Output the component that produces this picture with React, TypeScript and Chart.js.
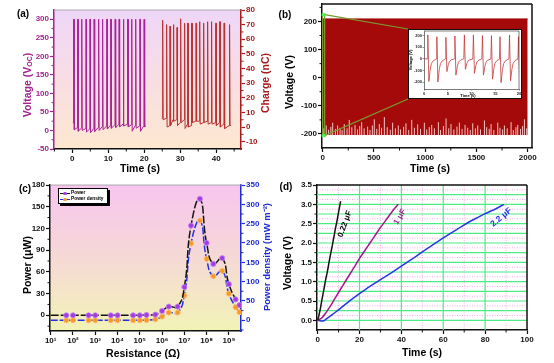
import React, { useEffect, useRef } from 'react';
import { Chart, registerables } from 'chart.js';
Chart.register(...registerables);

const FONT = '"Liberation Sans", Arial, Helvetica, sans-serif';
const PURPLE = '#a3248f';
const DARKRED = '#a51c1c';
const BLUE = '#1e2bd8';
const BANDRED = '#a50a0a';

// ---------------- Panel (a) ----------------
const aTimeTicks = [0, 10, 20, 30, 40];
const aTimeMinor = [-5, 5, 15, 25, 35, 45];
const aVoltTicks = [-50, 0, 50, 100, 150, 200, 250, 300];
const aVoltMinor = [-25, 25, 75, 125, 175, 225, 275];
const aChargeTicks = [-10, 0, 10, 20, 30, 40, 50, 60, 70, 80];
const aChargeMinor = [-5, 5, 15, 25, 35, 45, 55, 65, 75];

const voltPulseTimes = [0.4, 1.5, 2.6, 3.8, 4.9, 6.1, 7.3, 8.4, 9.6, 10.7, 11.9, 13.0, 14.2, 15.4, 16.5, 17.6, 18.8, 20.0];
const voltPeaks = [300, 300, 300, 300, 300, 300, 300, 300, 300, 300, 300, 300, 300, 300, 300, 300, 300, 300];
const voltBase = [20, 8, 6, 5, 4, 6, 8, 10, 12, 14, 15, 16, 17, 17, 15, 13, 12, 13];
const voltDip = [2, -2, 0, -4, -6, -3, 0, 2, 4, 6, 8, 10, 12, 10, -2, 6, -2, 10];
const voltTail = 13;

const chargePulseTimes = [25.1, 26.2, 27.2, 28.1, 29.1, 30.1, 31.2, 32.1, 33.2, 34.4, 35.4, 36.5, 37.6, 38.7, 39.9, 41.0, 42.2, 43.7];
const chargePeaks = [73, 70, 69, 70, 68, 74, 71, 71, 71, 71, 72, 71, 72, 72, 71, 72, 71, 70];
const chargeBase = [6, 6, 1, 5, 5, 3, 5, 2, 1, 4, 4, 3, 4, 3, 3, 3, 2, 1];
const chargeDip = [5, 0, 1, 4, 1, 3, -1, 0, 3, 4, 2, 3, 2, 2, 1, 0, -1, 1];
const chargeTail = 1;

// ---------------- Panel (b) ----------------
const bTimeTicks = [0, 500, 1000, 1500, 2000];
const bTimeMinor = [250, 750, 1250, 1750];
const bVoltTicks = [-200, -100, 0, 100, 200];
const bVoltMinor = [-150, -50, 50, 150, 250];
const bBandTimes = [0, 2000];
const bBandTop = [209, 209];
const bBandBottom = [-204, -204];
const bStreakTimes = [12, 35, 58, 80, 98, 125, 146, 170, 190, 211, 238, 260, 285, 316, 340, 362, 381, 405, 439, 462, 485, 504, 528, 553, 575, 602, 630, 660, 683, 710, 738, 760, 790, 813, 840, 869, 895, 927, 955, 992, 1015, 1040, 1064, 1090, 1129, 1150, 1178, 1204, 1230, 1252, 1280, 1310, 1334, 1360, 1389, 1415, 1440, 1464, 1490, 1513, 1540, 1578, 1600, 1625, 1643, 1670, 1708, 1730, 1755, 1773, 1800, 1838, 1860, 1885, 1903, 1930, 1950, 1968, 1990];
const bStreakTops = [-180, -170, -185, -175, -160, -182, -170, -178, -186, -165, -180, -150, -176, -168, -184, -172, -158, -180, -174, -186, -170, -148, -182, -165, -178, -140, -176, -185, -160, -180, -170, -184, -175, -162, -186, -150, -178, -166, -182, -160, -184, -176, -168, -180, -158, -186, -172, -145, -180, -165, -184, -174, -160, -182, -168, -178, -186, -162, -180, -170, -184, -152, -176, -182, -165, -186, -160, -178, -184, -170, -180, -158, -186, -176, -168, -182, -172, -148, -180];
const bZoomTimes = [0, 20];
const bZoomVolts = [-206, 224];

const insetTimeTicks = [0, 5, 10, 15, 20];
const insetVoltTicks = [-200, -100, 0, 100, 200];
const insetPulseTimes = [0.8, 2.7, 4.6, 6.5, 8.5, 10.4, 12.3, 14.2, 16.0, 18.0, 19.9];
const insetPeaks = [206, 191, 186, 197, 206, 206, 200, 200, 191, 206, 191];
const insetTroughs = [-195, -200, -110, -140, -90, -125, -140, -175, -205, -190, -185];
const insetRecovery = [[0.3, 0.45], [0.55, 0.2], [0.95, 0.08], [1.45, 0.02]];

// ---------------- Panel (c) ----------------
const cResTicks = [1e1, 1e2, 1e3, 1e4, 1e5, 1e6, 1e7, 1e8, 1e9];
const cPowerTicks = [0, 30, 60, 90, 120, 150, 180];
const cPowerMinor = [-15, 15, 45, 75, 105, 135, 165];
const cDensTicks = [0, 50, 100, 150, 200, 250, 300, 350];
const cDensMinor = [-25, 25, 75, 125, 175, 225, 275, 325];
const cResistance = [1e1, 5e1, 1e2, 5e2, 1e3, 5e3, 1e4, 5e4, 1e5, 2e5, 5e5, 1e6, 2e6, 5e6, 1e7, 2e7, 5e7, 1e8, 2e8, 5e8, 1e9, 2e9, 3e9];
const cPower = [0, 0, 0, 0, 0, 0, 0, 0, 0, 0.5, 1, 6, 12, 12, 39, 124, 161, 100, 71, 79, 43, 22, 14];
const cDensity = [0, 0, 0, 0, 0, 0, 0, 0, 0, 0.5, 2.6, 9.5, 20, 20, 64, 199, 258, 159, 114, 128, 69, 34, 21];

// ---------------- Panel (d) ----------------
const dTimeTicks = [0, 20, 40, 60, 80, 100];
const dTimeMinor = [10, 30, 50, 70, 90];
const dVoltTicks = [0, 0.5, 1, 1.5, 2, 2.5, 3, 3.5];
const dVoltMinor = [0.25, 0.75, 1.25, 1.75, 2.25, 2.75, 3.25];
const dGridMajorX = [20, 40, 60, 80];
const dGridMajorY = [0, 0.25, 0.5, 0.75, 1, 1.25, 1.5, 1.75, 2, 2.25, 2.5, 2.75, 3, 3.25];
const dGridMinorX = [10, 30, 50, 70, 90];
const dGridMinorY = [0.125, 0.375, 0.625, 0.875, 1.125, 1.375, 1.625, 1.875, 2.125, 2.375, 2.625, 2.875, 3.125, 3.375];
const d022T = [0, 0.5, 1, 1.5, 2, 2.5, 3, 3.5, 4, 4.5, 5, 5.5, 6, 6.5, 7, 7.5, 8, 8.5, 9, 9.5, 10, 10.5, 11];
const d022V = [0, 0.1, 0.22, 0.36, 0.52, 0.66, 0.8, 0.95, 1.1, 1.22, 1.36, 1.52, 1.66, 1.8, 1.93, 2.08, 2.22, 2.38, 2.5, 2.64, 2.8, 2.94, 3.08];
const d1T = [0, 2, 4, 6, 8, 10, 12, 15, 18, 20, 22, 25, 28, 30, 33, 36, 38.5];
const d1V = [0, 0.06, 0.2, 0.36, 0.54, 0.72, 0.9, 1.16, 1.42, 1.6, 1.76, 2.0, 2.24, 2.4, 2.62, 2.84, 3.0];
const d22T = [0, 1, 2, 3, 4, 6, 8, 10, 15, 20, 25, 30, 35, 40, 45, 50, 55, 60, 65, 70, 75, 80, 85, 89];
const d22V = [0, -0.01, -0.02, -0.01, 0.03, 0.11, 0.19, 0.27, 0.49, 0.69, 0.88, 1.05, 1.22, 1.4, 1.58, 1.77, 1.95, 2.13, 2.3, 2.47, 2.62, 2.76, 2.88, 3.0];

// ---------------- layout ----------------
const BOX_A = { left: 0, top: 0, width: 277, height: 180 };
const BOX_B = { left: 277, top: 0, width: 277, height: 180 };
const BOX_INSET = { left: 408, top: 29, width: 114, height: 70 };
const BOX_C = { left: 0, top: 180, width: 277, height: 183 };
const BOX_D = { left: 277, top: 180, width: 277, height: 183 };

const SUP: Record<number, string> = { 1: '¹', 2: '²', 3: '³', 4: '⁴', 5: '⁵', 6: '⁶', 7: '⁷', 8: '⁸', 9: '⁹' };

const zip = (xs: number[], ys: number[]) => xs.slice(0, Math.min(xs.length, ys.length)).map((x, i) => ({ x, y: ys[i] }));

function pulseTrain(times: number[], peaks: number[], base: number[], dip: number[], tail: number) {
  const pts: any[] = [];
  times.forEach((t, i) => {
    if (i === 0) pts.push({ x: t - 0.25, y: base[i] });
    pts.push({ x: t - 0.1, y: base[i] });
    pts.push({ x: t - 0.04, y: peaks[i] });
    pts.push({ x: t + 0.08, y: peaks[i] });
    pts.push({ x: t + 0.15, y: dip[i] });
  });
  pts.push({ x: times[times.length - 1] + 0.45, y: tail });
  return pts;
}

function streaks() {
  const pts: any[] = [];
  const n = Math.min(bStreakTimes.length, bStreakTops.length);
  for (let i = 0; i < n; i++) {
    pts.push({ x: bStreakTimes[i], y: bBandBottom[0] - 2 });
    pts.push({ x: bStreakTimes[i], y: bStreakTops[i] });
    pts.push({ x: bStreakTimes[i] + 0.01, y: null });
  }
  return pts;
}

function insetWave() {
  const pts: any[] = [{ x: 0, y: 0 }];
  insetPulseTimes.forEach((t, i) => {
    pts.push({ x: t - 0.12, y: 0 });
    pts.push({ x: t, y: insetPeaks[i] });
    pts.push({ x: t + 0.22, y: insetTroughs[i] });
    insetRecovery.forEach(([dt, f]) => pts.push({ x: t + 0.22 + dt, y: insetTroughs[i] * f }));
  });
  return pts;
}

type AxisSpec = {
  type?: string; pos: 'left' | 'right' | 'bottom'; min: number; max: number; ticks: number[]; size: number;
  color: string; fmt?: (v: number) => string; fontSize?: number; tickLen?: number; borderWidth?: number; pad?: number;
};
function axis(s: AxisSpec) {
  const horiz = s.pos === 'bottom';
  return {
    type: s.type ?? 'linear',
    position: s.pos,
    min: s.min,
    max: s.max,
    afterBuildTicks: (sc: any) => { sc.ticks = s.ticks.map((v) => ({ value: v })); },
    afterFit: (sc: any) => {
      if (horiz) sc.height = s.size; else sc.width = s.size;
      sc.paddingLeft = 0; sc.paddingRight = 0; sc.paddingTop = 0; sc.paddingBottom = 0;
    },
    grid: { drawOnChartArea: false, drawTicks: true, tickLength: s.tickLen ?? 4, tickColor: s.color, tickWidth: (s.borderWidth ?? 1.5) * 0.8, color: s.color },
    border: { display: true, color: s.color, width: s.borderWidth ?? 1.5 },
    ticks: {
      color: s.color, font: { family: FONT, size: s.fontSize ?? 8, weight: 'bold' }, padding: s.pad ?? 1,
      maxRotation: 0, minRotation: 0, autoSkip: false,
      callback: (v: any) => (s.fmt ? s.fmt(Number(v)) : String(v)),
    },
  };
}

function baseOptions(padding: any, scales: any) {
  return {
    animation: false, responsive: false, devicePixelRatio: 1, events: [],
    layout: { padding: { left: 0, right: 0, top: 0, bottom: 0, ...padding } },
    plugins: { legend: { display: false }, tooltip: { enabled: false } },
    scales,
  };
}

function bgPlugin(stops: [number, string][]) {
  return {
    id: 'bg',
    beforeDraw(chart: any) {
      const { ctx, chartArea: a } = chart;
      const g = ctx.createLinearGradient(0, a.top, 0, a.bottom);
      stops.forEach(([p, c]) => g.addColorStop(p, c));
      ctx.save(); ctx.fillStyle = g; ctx.fillRect(a.left, a.top, a.right - a.left, a.bottom - a.top); ctx.restore();
    },
  };
}

function framePlugin(sides: { top?: string; right?: string; lw?: number }) {
  return {
    id: 'frame',
    afterDraw(chart: any) {
      const { ctx, chartArea: a } = chart;
      ctx.save(); ctx.lineWidth = sides.lw ?? 1.5;
      if (sides.top) { ctx.strokeStyle = sides.top; ctx.beginPath(); ctx.moveTo(a.left, a.top); ctx.lineTo(a.right, a.top); ctx.stroke(); }
      if (sides.right) { ctx.strokeStyle = sides.right; ctx.beginPath(); ctx.moveTo(a.right, a.top); ctx.lineTo(a.right, a.bottom); ctx.stroke(); }
      ctx.restore();
    },
  };
}

function minorPlugin(specs: { axis: string; values: number[]; color: string; len?: number; lw?: number }[]) {
  return {
    id: 'minor',
    afterDraw(chart: any) {
      const { ctx, chartArea: a } = chart;
      specs.forEach((sp) => {
        const s = chart.scales[sp.axis];
        const len = sp.len ?? 2.5;
        ctx.save(); ctx.strokeStyle = sp.color; ctx.lineWidth = sp.lw ?? 1; ctx.beginPath();
        sp.values.forEach((v) => {
          const p = s.getPixelForValue(v);
          if (s.isHorizontal()) { if (p < a.left - 0.5 || p > a.right + 0.5) return; ctx.moveTo(p, a.bottom); ctx.lineTo(p, a.bottom + len); }
          else {
            if (p < a.top - 0.5 || p > a.bottom + 0.5) return;
            if (s.position === 'left') { ctx.moveTo(a.left, p); ctx.lineTo(a.left - len, p); }
            else { ctx.moveTo(a.right, p); ctx.lineTo(a.right + len, p); }
          }
        });
        ctx.stroke(); ctx.restore();
      });
    },
  };
}

function makeA() {
  return {
    type: 'line',
    data: {
      datasets: [
        { data: pulseTrain(voltPulseTimes, voltPeaks, voltBase, voltDip, voltTail), borderColor: '#a8249a', borderWidth: 1, pointRadius: 0, yAxisID: 'y', tension: 0 },
        { data: pulseTrain(chargePulseTimes, chargePeaks, chargeBase, chargeDip, chargeTail), borderColor: '#b83434', borderWidth: 1, pointRadius: 0, yAxisID: 'y1', tension: 0 },
      ],
    },
    options: baseOptions({ top: 10 }, {
      x: axis({ pos: 'bottom', min: -5.1, max: 46.9, ticks: aTimeTicks, size: 31, color: '#111' }),
      y: axis({ pos: 'left', min: -50, max: 325, ticks: aVoltTicks, size: 54, color: PURPLE }),
      y1: axis({ pos: 'right', min: -15, max: 80, ticks: aChargeTicks, size: 36, color: DARKRED }),
    }),
    plugins: [
      bgPlugin([[0, '#eed6f8'], [0.5, '#f9dde4'], [1, '#fde8cf']]),
      framePlugin({ top: '#9a9a9a', lw: 0.8 }),
      minorPlugin([
        { axis: 'x', values: aTimeMinor, color: '#111' },
        { axis: 'y', values: aVoltMinor, color: PURPLE },
        { axis: 'y1', values: aChargeMinor, color: DARKRED },
      ]),
    ],
  };
}

function makeB() {
  return {
    type: 'line',
    data: {
      datasets: [
        { data: streaks(), borderColor: 'rgba(255,214,214,0.9)', borderWidth: 1, pointRadius: 0, spanGaps: false, tension: 0 },
        { data: zip(bBandTimes, bBandBottom), borderColor: BANDRED, borderWidth: 0, pointRadius: 0, fill: false },
        { data: zip(bBandTimes, bBandTop), borderColor: BANDRED, backgroundColor: BANDRED, borderWidth: 1, pointRadius: 0, fill: '-1' },
      ],
    },
    options: baseOptions({ top: 4, right: 22 }, {
      x: axis({ pos: 'bottom', min: -6, max: 2042, ticks: bTimeTicks, size: 32, color: '#111' }),
      y: axis({ pos: 'left', min: -250, max: 262, ticks: bVoltTicks, size: 45, color: '#111' }),
    }),
    plugins: [
      framePlugin({ top: '#111', right: '#111', lw: 1.5 }),
      minorPlugin([
        { axis: 'x', values: bTimeMinor, color: '#111' },
        { axis: 'y', values: bVoltMinor, color: '#111' },
      ]),
      {
        id: 'zoomdeco',
        afterDatasetsDraw(chart: any) {
          const { ctx, scales } = chart;
          const x0 = scales.x.getPixelForValue(bZoomTimes[0]);
          const x1 = scales.x.getPixelForValue(bZoomTimes[1]);
          const yT = scales.y.getPixelForValue(bZoomVolts[1]);
          const yB = scales.y.getPixelForValue(bZoomVolts[0]);
          const ix = BOX_INSET.left - BOX_B.left;
          const iy0 = BOX_INSET.top - BOX_B.top;
          const iy1 = iy0 + BOX_INSET.height;
          ctx.save();
          ctx.strokeStyle = '#7a9a30'; ctx.lineWidth = 1.2;
          ctx.strokeRect(x0, yT, Math.max(x1 - x0, 1.5), yB - yT);
          ctx.beginPath(); ctx.moveTo(x1, yT); ctx.lineTo(ix, iy0); ctx.moveTo(x1, yB); ctx.lineTo(ix, iy1); ctx.stroke();
          ctx.fillStyle = '#50f050';
          ctx.fillRect(x0 - 1, yT - 1.5, 4, 3); ctx.fillRect(x0 - 1, yB - 1.5, 4, 3);
          ctx.restore();
        },
      },
    ],
  };
}

function makeInset() {
  return {
    type: 'line',
    data: { datasets: [{ data: insetWave(), borderColor: '#c43a3a', borderWidth: 0.8, pointRadius: 0, tension: 0 }] },
    options: baseOptions({ top: 2, right: 3 }, {
      x: axis({ pos: 'bottom', min: 0, max: 20, ticks: insetTimeTicks, size: 10, color: '#222', fontSize: 4, tickLen: 1.5, borderWidth: 0.6, pad: 0.5 }),
      y: axis({ pos: 'left', min: -260, max: 240, ticks: insetVoltTicks, size: 16, color: '#222', fontSize: 4, tickLen: 1.5, borderWidth: 0.6, pad: 0.5 }),
    }),
    plugins: [
      {
        id: 'insetbg',
        beforeDraw(chart: any) { const { ctx, width, height } = chart; ctx.save(); ctx.fillStyle = '#fff'; ctx.fillRect(0, 0, width, height); ctx.restore(); },
        afterDraw(chart: any) { const { ctx, width, height } = chart; ctx.save(); ctx.strokeStyle = '#111'; ctx.lineWidth = 1; ctx.strokeRect(0.5, 0.5, width - 1, height - 1); ctx.restore(); },
      },
      framePlugin({ top: '#222', right: '#222', lw: 0.6 }),
    ],
  };
}

function makeC() {
  return {
    type: 'line',
    data: {
      datasets: [
        {
          data: zip(cResistance, cPower), yAxisID: 'y', borderColor: '#151515', borderWidth: 1.5, borderDash: [8, 2], tension: 0.5,
          pointRadius: cResistance.map((_, i) => (i === 0 ? 0 : 2.6)), pointBackgroundColor: '#a43ce6', pointBorderColor: '#c68cf6', pointBorderWidth: 0.8,
        },
        {
          data: zip(cResistance, cDensity), yAxisID: 'y1', borderColor: '#2432e6', borderWidth: 1.5, borderDash: [7, 2], tension: 0.5,
          pointRadius: cResistance.map((_, i) => (i === 0 ? 0 : 2.6)), pointBackgroundColor: '#f59a2a', pointBorderColor: '#ffc47a', pointBorderWidth: 0.8,
        },
      ],
    },
    options: baseOptions({ top: 5 }, {
      x: axis({ type: 'logarithmic', pos: 'bottom', min: 9.3, max: 3.5e9, ticks: cResTicks, size: 32, color: '#111', fmt: (v) => '10' + (SUP[Math.round(Math.log10(v))] ?? '') }),
      y: axis({ pos: 'left', min: -21.7, max: 180, ticks: cPowerTicks, size: 50, color: '#111' }),
      y1: axis({ pos: 'right', min: -27.7, max: 350, ticks: cDensTicks, size: 36, color: BLUE }),
    }),
    plugins: [
      bgPlugin([[0, '#f8c5ef'], [0.5, '#f6d9d6'], [1, '#f2f3b6']]),
      framePlugin({ top: '#9a9a9a', lw: 0.8 }),
      minorPlugin([
        { axis: 'y', values: cPowerMinor, color: '#111' },
        { axis: 'y1', values: cDensMinor, color: BLUE },
      ]),
    ],
  };
}

function makeD() {
  return {
    type: 'line',
    data: {
      datasets: [
        { data: zip(d022T, d022V), borderColor: '#111', borderWidth: 1.5, pointRadius: 0, tension: 0.1 },
        { data: zip(d1T, d1V), borderColor: '#a01a8c', borderWidth: 1.5, pointRadius: 0, tension: 0.2 },
        { data: zip(d22T, d22V), borderColor: '#2338e6', borderWidth: 1.5, pointRadius: 0, tension: 0.2 },
      ],
    },
    options: baseOptions({ top: 5, right: 27 }, {
      x: axis({ pos: 'bottom', min: -0.3, max: 100, ticks: dTimeTicks, size: 33, color: '#111' }),
      y: axis({ pos: 'left', min: -0.25, max: 3.5, ticks: dVoltTicks, size: 40, color: '#111', fmt: (v) => v.toFixed(1) }),
    }),
    plugins: [
      {
        id: 'dgrid',
        beforeDatasetsDraw(chart: any) {
          const { ctx, chartArea: a, scales } = chart;
          ctx.save();
          ctx.strokeStyle = '#f2a2ea'; ctx.lineWidth = 0.9; ctx.setLineDash([1, 1.5]);
          ctx.beginPath();
          dGridMinorX.forEach((v) => { const p = scales.x.getPixelForValue(v); ctx.moveTo(p, a.top); ctx.lineTo(p, a.bottom); });
          dGridMinorY.forEach((v) => { const p = scales.y.getPixelForValue(v); ctx.moveTo(a.left, p); ctx.lineTo(a.right, p); });
          ctx.stroke();
          ctx.setLineDash([]);
          ctx.strokeStyle = '#4ceb86'; ctx.lineWidth = 1.2;
          ctx.beginPath();
          dGridMajorX.forEach((v) => { const p = scales.x.getPixelForValue(v); ctx.moveTo(p, a.top); ctx.lineTo(p, a.bottom); });
          dGridMajorY.forEach((v) => { const p = scales.y.getPixelForValue(v); ctx.moveTo(a.left, p); ctx.lineTo(a.right, p); });
          ctx.stroke();
          ctx.restore();
        },
      },
      framePlugin({ top: '#111', right: '#111', lw: 1.5 }),
      minorPlugin([
        { axis: 'x', values: dTimeMinor, color: '#111' },
        { axis: 'y', values: dVoltMinor, color: '#111' },
      ]),
    ],
  };
}

function ChartBox({ box, make }: { box: { left: number; top: number; width: number; height: number }; make: () => any }) {
  const ref = useRef<HTMLCanvasElement>(null);
  useEffect(() => {
    const c = new Chart(ref.current as HTMLCanvasElement, make());
    return () => c.destroy();
  }, []);
  return (
    <canvas ref={ref} width={box.width} height={box.height}
      style={{ position: 'absolute', left: box.left, top: box.top, width: box.width, height: box.height }} />
  );
}

function Label({ x, y, rot = 0, size = 10.5, color = '#000', children }: any) {
  return (
    <div style={{
      position: 'absolute', left: x, top: y, transform: `translate(-50%,-50%) rotate(${rot}deg)`,
      fontFamily: FONT, fontWeight: 'bold', fontSize: size, color, whiteSpace: 'nowrap', lineHeight: 1,
    }}>{children}</div>
  );
}

function LegendRow({ y, line, dot, text }: any) {
  return (
    <>
      <div style={{ position: 'absolute', left: 60, top: y - 0.75, width: 10, height: 1.5, background: line }} />
      <div style={{ position: 'absolute', left: 63.2, top: y - 1.8, width: 3.6, height: 3.6, borderRadius: '50%', background: dot }} />
      <div style={{ position: 'absolute', left: 71, top: y - 2.7, fontFamily: FONT, fontWeight: 'bold', fontSize: 4.8, lineHeight: 1, color: '#000', whiteSpace: 'nowrap' }}>{text}</div>
    </>
  );
}

export default function App() {
  useEffect(() => { document.body.style.margin = '0'; }, []);
  return (
    <div style={{ position: 'fixed', left: 0, top: 0, width: 554, height: 363, background: '#fff', overflow: 'hidden' }}>
      <ChartBox box={BOX_A} make={makeA} />
      <ChartBox box={BOX_B} make={makeB} />
      <ChartBox box={BOX_INSET} make={makeInset} />
      <ChartBox box={BOX_C} make={makeC} />
      <ChartBox box={BOX_D} make={makeD} />

      {/* panel (a) */}
      <Label x={23} y={14} size={10}>(a)</Label>
      <Label x={27} y={85} rot={-90} color={PURPLE}>Voltage (V<sub style={{ fontSize: 7, verticalAlign: '-1px' }}>OC</sub>)</Label>
      <Label x={265} y={83} rot={-90} color={DARKRED}>Charge (nC)</Label>
      <Label x={140} y={168}>Time (s)</Label>

      {/* panel (b) */}
      <Label x={285} y={15} size={10}>(b)</Label>
      <Label x={289} y={82} rot={-90}>Voltage (V)</Label>
      <Label x={430} y={168}>Time (s)</Label>
      <Label x={411} y={60} rot={-90} size={4}>Voltage (V)</Label>
      <Label x={468} y={96} size={4}>Time (s)</Label>

      {/* panel (c) */}
      <Label x={25} y={189} size={10}>(c)</Label>
      <Label x={27} y={265} rot={-90}>Power (μW)</Label>
      <Label x={267} y={257} rot={-90} size={9.5} color={BLUE}>Power density (mW m⁻²)</Label>
      <Label x={143} y={353}>Resistance (Ω)</Label>
      <div style={{ position: 'absolute', left: 58, top: 188, width: 50, height: 16, background: '#fff', border: '1px solid #000', boxShadow: '2px 2px 0 #000', boxSizing: 'border-box' }} />
      <LegendRow y={193.5} line="#151515" dot="#a43ce6" text="Power" />
      <LegendRow y={199.5} line="#2432e6" dot="#f59a2a" text="Power density" />

      {/* panel (d) */}
      <Label x={286} y={187} size={10}>(d)</Label>
      <Label x={287} y={263} rot={-90}>Voltage (V)</Label>
      <Label x={422} y={352}>Time (s)</Label>
      <Label x={345} y={224} rot={-70} size={8}>0.22 μF</Label>
      <Label x={400} y={217} rot={-60} size={8} color="#a01a8c">1 μF</Label>
      <Label x={501} y={217} rot={-40} size={8.5} color="#2338e6">2.2 μF</Label>
    </div>
  );
}
